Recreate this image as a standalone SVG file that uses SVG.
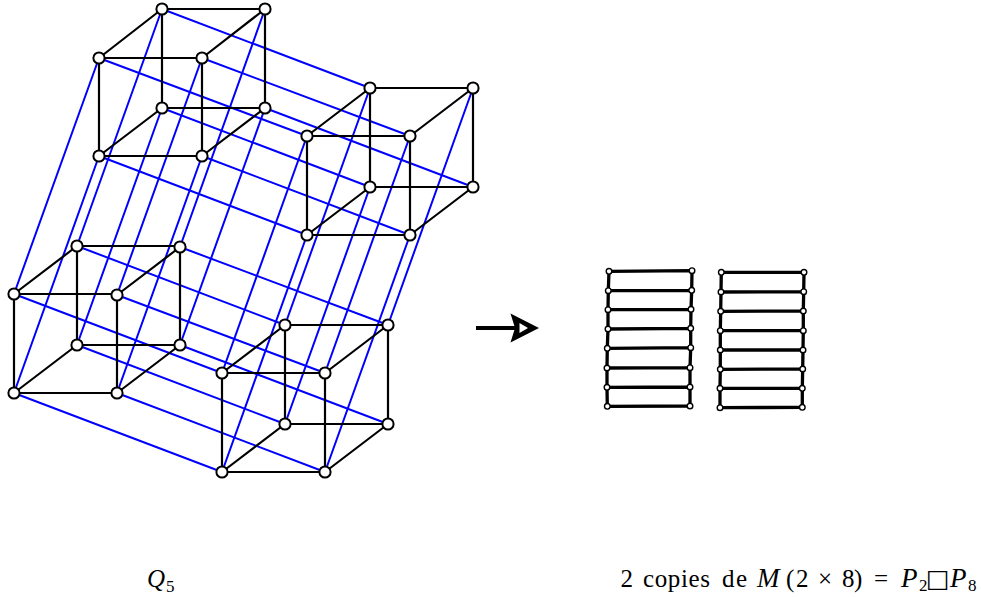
<svg xmlns="http://www.w3.org/2000/svg" width="981" height="597" viewBox="0 0 981 597">
<style>
.k{stroke:#000;stroke-width:2.2;fill:none}
.b{stroke:#00f;stroke-width:2;fill:none}
.h{stroke:#000;stroke-width:3.3;fill:none}
.n{fill:#fff;stroke:#000;stroke-width:2}
.m{fill:#fff;stroke:#000;stroke-width:1.4}
text{font-family:"Liberation Serif","Times New Roman",serif;font-size:25px;fill:#000}
.i{font-style:italic}
.s{font-size:17px}
.y{font-family:"DejaVu Sans",sans-serif}
.w{font-size:27px}
</style>
<rect width="981" height="597" fill="#fff"/>
<g id="connectors">
<path class="b" d="M14 294L99 58M117 295L202 58M14 393L99 156M117 393L202 156M77 246L162 9M180 247L265 9M77 345L162 108M180 345L265 108"/>
<path class="b" d="M222 373L307 136M325 373L410 136M222 472L307 235M325 472L410 235M285 325L370 88M388 325L473 88M285 424L370 187"/>
<path class="b" d="M14 294L222 373M117 295L325 373M14 393L222 472M117 393L325 472M77 246L285 325M180 247L388 325M77 345L285 424M180 345L388 424"/>
<path class="b" d="M99 58L307 136M202 58L410 136M99 156L307 235M202 156L410 235M162 9L370 88M162 108L370 187M265 108L473 187"/>
<path class="k" d="M14 294H117V393H14ZM77 246H180V345H77ZM14 294L77 246M117 295L180 247M14 393L77 345M117 393L180 345"/>
<path class="k" d="M99 58H202V156H99ZM162 9H265V108H162ZM99 58L162 9M202 58L265 9M99 156L162 108M202 156L265 108"/>
<path class="k" d="M222 373H325V472H222ZM285 325H388V424H285ZM222 373L285 325M325 373L388 325M222 472L285 424M325 472L388 424"/>
<path class="k" d="M307 136H410V235H307ZM370 88H473V187H370ZM307 136L370 88M410 136L473 88M307 235L370 187M410 235L473 187"/>
<path class="h" d="M609 271.3L692 270.7M608.3 290.7L691.7 290.3M608 309.7L691 309.3M608 329L690.7 328.3M607.3 348.3L690.7 347.7M607 368L690 367.7M607 387.3L690 387M607.3 406.3L690 406M609 271.3L608.3 290.7L608 309.7L608 329L607.3 348.3L607 368L607 387.3L607.3 406.3M692 270.7L691.7 290.3L691 309.3L690.7 328.3L690.7 347.7L690 367.7L690 387L690 406"/>
<path class="h" d="M721.3 272.3L804 272.3M721 292L803.7 291.7M720.7 311.3L803.3 311M720.3 330.7L803.3 330.7M720.3 350L803 350M720.3 369.3L802.7 369M720 388.3L802.3 388.3M720 407.7L802.3 407.3M721.3 272.3L721 292L720.7 311.3L720.3 330.7L720.3 350L720.3 369.3L720 388.3L720 407.7M804 272.3L803.7 291.7L803.3 311L803.3 330.7L803 350L802.7 369L802.3 388.3L802.3 407.3"/>
<path d="M476 328H516" stroke="#000" stroke-width="4" fill="none"/>
<path d="M539 328L510.5 313.5L515 328L510.5 342.5ZM519.5 323L528 328L519.5 333Z" fill="#000" fill-rule="evenodd"/>
</g>
<g id="q5-cube-a"><circle class="n" cx="14" cy="294" r="5.6"/><circle class="n" cx="117" cy="295" r="5.6"/><circle class="n" cx="14" cy="393" r="5.6"/><circle class="n" cx="117" cy="393" r="5.6"/><circle class="n" cx="77" cy="246" r="5.6"/><circle class="n" cx="180" cy="247" r="5.6"/><circle class="n" cx="77" cy="345" r="5.6"/><circle class="n" cx="180" cy="345" r="5.6"/></g>
<g id="q5-cube-b"><circle class="n" cx="99" cy="58" r="5.6"/><circle class="n" cx="202" cy="58" r="5.6"/><circle class="n" cx="99" cy="156" r="5.6"/><circle class="n" cx="202" cy="156" r="5.6"/><circle class="n" cx="162" cy="9" r="5.6"/><circle class="n" cx="265" cy="9" r="5.6"/><circle class="n" cx="162" cy="108" r="5.6"/><circle class="n" cx="265" cy="108" r="5.6"/></g>
<g id="q5-cube-c"><circle class="n" cx="222" cy="373" r="5.6"/><circle class="n" cx="325" cy="373" r="5.6"/><circle class="n" cx="222" cy="472" r="5.6"/><circle class="n" cx="325" cy="472" r="5.6"/><circle class="n" cx="285" cy="325" r="5.6"/><circle class="n" cx="388" cy="325" r="5.6"/><circle class="n" cx="285" cy="424" r="5.6"/><circle class="n" cx="388" cy="424" r="5.6"/></g>
<g id="q5-cube-d"><circle class="n" cx="307" cy="136" r="5.6"/><circle class="n" cx="410" cy="136" r="5.6"/><circle class="n" cx="307" cy="235" r="5.6"/><circle class="n" cx="410" cy="235" r="5.6"/><circle class="n" cx="370" cy="88" r="5.6"/><circle class="n" cx="473" cy="88" r="5.6"/><circle class="n" cx="370" cy="187" r="5.6"/><circle class="n" cx="473" cy="187" r="5.6"/></g>
<g id="ladder-1"><circle class="m" cx="609" cy="271.3" r="2.8"/><circle class="m" cx="608.3" cy="290.7" r="2.8"/><circle class="m" cx="608" cy="309.7" r="2.8"/><circle class="m" cx="608" cy="329" r="2.8"/><circle class="m" cx="607.3" cy="348.3" r="2.8"/><circle class="m" cx="607" cy="368" r="2.8"/><circle class="m" cx="607" cy="387.3" r="2.8"/><circle class="m" cx="607.3" cy="406.3" r="2.8"/><circle class="m" cx="692" cy="270.7" r="2.8"/><circle class="m" cx="691.7" cy="290.3" r="2.8"/><circle class="m" cx="691" cy="309.3" r="2.8"/><circle class="m" cx="690.7" cy="328.3" r="2.8"/><circle class="m" cx="690.7" cy="347.7" r="2.8"/><circle class="m" cx="690" cy="367.7" r="2.8"/><circle class="m" cx="690" cy="387" r="2.8"/><circle class="m" cx="690" cy="406" r="2.8"/></g>
<g id="ladder-2"><circle class="m" cx="721.3" cy="272.3" r="2.8"/><circle class="m" cx="721" cy="292" r="2.8"/><circle class="m" cx="720.7" cy="311.3" r="2.8"/><circle class="m" cx="720.3" cy="330.7" r="2.8"/><circle class="m" cx="720.3" cy="350" r="2.8"/><circle class="m" cx="720.3" cy="369.3" r="2.8"/><circle class="m" cx="720" cy="388.3" r="2.8"/><circle class="m" cx="720" cy="407.7" r="2.8"/><circle class="m" cx="804" cy="272.3" r="2.8"/><circle class="m" cx="803.7" cy="291.7" r="2.8"/><circle class="m" cx="803.3" cy="311" r="2.8"/><circle class="m" cx="803.3" cy="330.7" r="2.8"/><circle class="m" cx="803" cy="350" r="2.8"/><circle class="m" cx="802.7" cy="369" r="2.8"/><circle class="m" cx="802.3" cy="388.3" r="2.8"/><circle class="m" cx="802.3" cy="407.3" r="2.8"/></g>
<g id="label-q5"><text class="i" x="147" y="587">Q</text><text class="s" x="166" y="592">5</text></g>
<g id="label-copies"><text x="620.5" y="587">2</text><text x="643" y="587" textLength="67" lengthAdjust="spacing">copies</text><text x="722" y="587" textLength="25" lengthAdjust="spacing">de</text><text class="i w" x="757" y="587">M</text><text x="786" y="587">(</text><text x="796" y="587">2</text><text x="818" y="587">×</text><text x="842" y="587">8</text><text x="854" y="587">)</text><text x="874" y="587">=</text><text class="i w" x="901" y="587">P</text><text class="s" x="919" y="591">2</text><text class="y" x="926" y="587">□</text><text class="i w" x="950" y="587">P</text><text class="s" x="968" y="591">8</text></g>
</svg>
